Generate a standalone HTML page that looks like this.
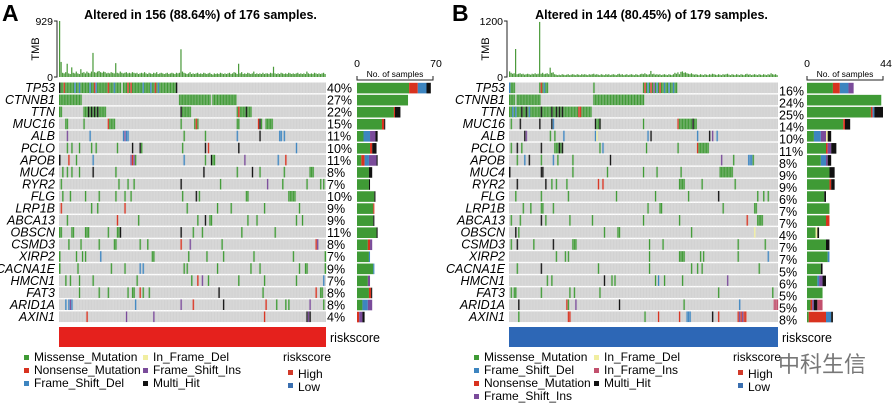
<!DOCTYPE html>
<html><head><meta charset="utf-8"><style>
body{margin:0;background:#fff}
svg{display:block;font-family:"Liberation Sans","Noto Sans CJK SC",sans-serif}
</style></head><body>
<svg id="s" width="892" height="403" viewBox="0 0 892 403" xmlns="http://www.w3.org/2000/svg"></svg>
<script>
// ---------- data ----------
const genesA = ["TP53","CTNNB1","TTN","MUC16","ALB","PCLO","APOB","MUC4","RYR2","FLG","LRP1B","ABCA13","OBSCN","CSMD3","XIRP2","CACNA1E","HMCN1","FAT3","ARID1A","AXIN1"];
const genesB = genesA;
const pctA = [40,27,22,15,11,10,11,8,7,10,9,9,11,8,7,9,7,8,8,4];
const pctB = [16,24,25,14,10,11,8,9,9,6,7,7,4,7,7,5,6,5,5,8];
const nSamplesA = 176, nSamplesB = 179;
const titleA = "Altered in 156 (88.64%) of 176 samples.";
const titleB = "Altered in 144 (80.45%) of 179 samples.";
// mutation codes per gene: type + sample index or range
const mutA = [
"H0,M1-2,N3,M4-40,D10,D13,D20,N23,D24,N32,D36,M42-76,N45,N47,D55,D60,N63,D65,H77",
"M0-14,M79-99,M101-116",
"M0-1,M16-30,H19,H21,H23,H25,M80-86,H80,M117-126,N118,H123",
"M4-5,M16,N32,M33-36,M80,M89-91,N90,M117-118,N131,H132,M133,M136-140",
"I5,D20,D42,I43,D44,D45,M82,M96,D117,H132,D145,D146,D148",
"M5,M8,M13,M21,M24,M38,H48,H53,M54,M81,H96,N98,H118,D156",
"H0,N6,M11,D22,I47,N48,I49,M50,D82,M96,H100,M101,M102,I122,D144,N149",
"M2,M5,M8,M13,H22,M37,H95,M117,H127,M132,M148,M165-167",
"M1,M39,M45,M49,H80,M106,I137,M147,M163,M172,M174",
"M2,M7,M17,M26,M37,M43,M47,M81,H90,M92,M123-124,M151-155",
"N1,M21,M25,N43,M84,M104,M113,M135,M158",
"M5,N38,M52,M91,H96,M99-100,M124,M130,M156,M160",
"M0-1,M8-9,M17-19,M32,M38-39,H40,H80,M88,M94,M120,M142",
"M6,M14,M26,M36-37,M53,M58,N80,I86,M107,N169,I170",
"M0,M11,M15,M17,D27,M61-62,M85,M97,M108,M128,M154,M175",
"M0,M12,M34,M43,D53,D55,M82,M84,M104,M126,M132,M158,M162-163,M175",
"M4,M7,M13,M22,M51,M87,N91,I94,M98,M118,M135,M156,D174",
"M13,M26,M32,M45,M48-49,N53,M55,M59,H105,M134,N169,M172-173",
"D4,D6,I7,D8,D50,I80,N88,H108,N136,M143,M149,M151,I165,M174",
"N18,I44,I62,N135,H163,I164,H165"];
const mutB = [
"D0,M1-3,M20-25,N21,D23,M56,M89-111,N90,D92,N94,I96,D98,N100,D103,D106,D109",
"M0-3,M5-20,M56-89",
"M0-20,D2,D4,H8,H11,D13,M20-54,H21,H28,H31,H33,H35,N46,N47",
"M1,H7,H20,H28,D29,H57,M58-60,H60,M89,N112,M113-124,H122",
"H10,I11,M27,M30,D36,D57,F58,D92,H94,D125,H133,I135,D138",
"M1,H5,M8,H21,M30-35,H33,H35,M60,D62,M91,M112,N125,M126-132",
"M5,D10,H13,M21,D29,M32,M42,H67,I141,M149,D159-161,M162",
"H0,H21-22,M42,M65,M89,M98,M114,M140-148",
"H5,H24,M28,M31,M38,N59,N62,M113-116,M128,M150",
"M4,M21,M39,M71,M97,M119,H139,M165,M169,M172",
"M9,M14,M21-22,M29,M92,M100-101,M142,M163-164",
"M1,M7,H21,M24,M40,M55,M89,M113,N158,M165-168",
"H4,M6,M63,M72-73,M121,F163",
"M1,H5,M16,H29,M42-44,M93,M102,M152,M170",
"M31,M37,M39,M93,M113-116,M127,M129,M152,D172",
"M5,H21,M59,M93,M121,M125,M128,M166",
"M25,M28,H63,M68,M70,M97,D99,M103,M115,I145",
"M1,M3-4,M21,M40,M43,M60,M139,M175",
"H6,N38,M39,I44,H73,M116,D153,R176-178",
"M6,N39-40,M90,N99,N113,D118-120,H135,N139,N152,I153,N154,I155,N156,N157"];
// stacked sample counts per gene: order M,N,D,I,F,H,R
const cntA = [[48,8,8,0,0,4,0],[47,0,0,0,0,0,0],[34,1,0,0,0,5,0],[23,2,0,0,0,1,0],[6,0,6,5,0,2,0],[12,2,0,0,0,4,0],[4,3,4,7,0,1,0],[11,0,0,0,0,3,0],[11,0,0,0,0,1,0],[16,0,0,0,0,1,0],[15,1,0,0,0,0,0],[15,0,0,0,0,1,0],[18,0,0,0,0,1,0],[10,2,0,2,0,0,0],[11,0,1,0,0,0,0],[15,0,1,0,0,0,0],[10,0,0,2,0,0,0],[11,2,0,0,0,1,0],[5,0,5,4,0,0,0],[0,2,0,3,0,2,0]];
const cntB = [[15,4,5,3,0,0,0],[43,0,0,0,0,0,0],[37,1,1,0,0,5,0],[21,1,0,0,0,3,0],[4,0,4,3,1,2,0],[11,1,0,2,0,3,0],[8,0,3,1,0,2,0],[13,0,0,0,0,3,0],[13,1,0,0,0,2,0],[10,0,0,0,0,1,0],[13,0,0,0,0,0,0],[11,2,0,0,0,0,0],[5,0,0,0,1,1,0],[11,0,0,0,0,2,0],[12,0,1,0,0,0,0],[8,0,0,0,0,1,0],[6,0,1,2,0,2,0],[9,0,0,0,0,0,0],[2,1,0,1,0,2,3],[1,10,3,0,0,1,0]];
const tmbA = [929,250,70,60,80,220,60,50,160,70,60,90,60,50,130,70,80,60,90,70,60,90,400,80,70,90,100,80,70,90,80,60,70,60,80,70,60,230,70,60,90,70,60,70,80,60,70,60,80,70,60,70,50,60,70,60,80,60,50,70,60,50,70,60,80,50,60,70,60,50,60,70,50,60,70,60,50,70,60,70,460,90,70,60,50,60,80,50,60,50,60,70,50,60,50,70,60,50,60,70,50,40,60,50,60,50,70,60,50,60,50,60,70,50,60,80,70,50,220,60,80,50,60,50,70,60,50,60,90,50,60,50,60,50,70,50,60,60,50,70,60,170,60,50,60,50,70,60,50,60,50,70,60,50,60,50,60,70,50,60,50,60,50,90,60,50,60,50,70,60,50,60,50,60,70,50];
const tmbB = [120,90,70,80,600,60,70,80,60,70,50,60,70,60,50,70,60,80,60,70,1180,70,90,60,70,80,60,200,90,100,60,50,40,50,40,60,50,40,50,60,40,50,60,50,40,60,50,40,60,50,60,50,40,60,50,60,70,50,60,50,40,60,50,40,60,50,60,40,50,60,50,40,60,70,50,60,40,50,60,40,50,60,50,40,60,50,40,60,70,60,80,60,50,60,130,60,70,50,60,50,60,40,50,60,50,40,60,50,40,60,90,70,100,60,110,120,90,100,80,70,60,80,60,50,60,50,40,60,50,40,60,50,40,60,50,70,60,50,40,60,50,40,60,50,60,70,50,40,60,50,40,60,50,40,60,50,40,60,70,50,60,40,50,60,50,40,60,50,40,60,50,40,60,50,80,60,50,60,40];
const typeColor = {M:"#3f9a35",N:"#d8321f",D:"#3d85c0",I:"#7a4b9a",F:"#f1eea0",H:"#111111",R:"#c2506d"};
const stackOrder = ["M","N","D","I","F","H","R"];
// ---------- drawing ----------
const NS="http://www.w3.org/2000/svg", svg=document.getElementById("s");
function el(tag, attrs, parent){const e=document.createElementNS(NS,tag);for(const k in attrs)e.setAttribute(k,attrs[k]);(parent||svg).appendChild(e);return e;}
function txt(s,attrs,parent){const e=el("text",attrs,parent);e.textContent=s;return e;}
function parseMut(str){const out=[];str.split(",").forEach(tok=>{const t=tok[0];const r=tok.slice(1).split("-").map(Number);const a=r[0],b=r.length>1?r[1]:r[0];for(let i=a;i<=b;i++)out.push([i,t]);});return out;}
const rowY0=82.5, rowPitch=12.05, rowH=10.6;
function rowY(g){return rowY0+g*rowPitch;}

function panel(cfg){
  const g=el("g",{});
  
  
  const x0=cfg.x0, x1=cfg.x1, n=cfg.n, cw=(x1-x0)/n;
  const sx=i=>x0+i*cw;
  // letter + title
  const L=txt(cfg.letter,{x:cfg.letterX,y:21,"font-size":23,"font-weight":"bold"},g);
  
  const T=txt(cfg.title,{x:(x0+x1)/2+8,y:19,"font-size":12.5,"font-weight":"bold","text-anchor":"middle"},g);
  
  // TMB axis
  const yT=v=>77-v/cfg.tmbMax*56;
  el("path",{d:`M${x0-5} 21H${x0-2}V77H${x0-5}`,stroke:"#222",fill:"none","stroke-width":1},g);
  const t1=txt(String(cfg.tmbMax),{x:x0-6,y:25,"font-size":10.5,"text-anchor":"end"},g);
  
  const t0=txt("0",{x:x0-6,y:81,"font-size":10.5,"text-anchor":"end"},g);
  
  const ty=txt("TMB",{x:0,y:0,"font-size":11,"text-anchor":"middle",transform:`translate(${x0-20},49) rotate(-90)`},g);
  
  cfg.tmb.forEach((v,i)=>{const r=el("rect",{x:sx(i),y:yT(v),width:Math.max(cw*0.8,0.9),height:77-yT(v),fill:"#4a9a3a"},g);
    });
  // matrix
  cfg.genes.forEach((gn,gi)=>{
    const y=rowY(gi);
    const bg=el("rect",{x:x0,y:y,width:x1-x0,height:rowH,fill:"#d2d2d2"},g);
    
    const lab=txt(gn,{x:x0-4,y:y+9.5,"font-size":12.5,"font-style":"italic","text-anchor":"end"},g);
    
    parseMut(cfg.mut[gi]).forEach(([i,t])=>{const c=el("rect",{x:sx(i),y:y,width:cw+0.15,height:rowH,fill:typeColor[t]},g);
      });
    const p=txt(cfg.pct[gi]+"%",{x:x1+1,y:y+10+cfg.pctDy,"font-size":12.5},g);
    
    // stacked bar
    const bx=v=>cfg.bx0+v/cfg.bmax*(cfg.bx1-cfg.bx0);
    let acc=0;
    stackOrder.forEach((t,k)=>{const v=cfg.cnt[gi][k];if(!v)return;
      const r=el("rect",{x:bx(acc),y:y+0.3,width:bx(acc+v)-bx(acc),height:rowH,fill:typeColor[t]},g);
      acc+=v;});
  });
  // vertical sample separators
  for(let i=1;i<n;i++){el("line",{x1:sx(i),x2:sx(i),y1:rowY0,y2:rowY(19)+rowH,stroke:"#e6e6e6","stroke-width":0.25},g);}
  // right axis
  el("path",{d:`M${cfg.bx0} 76V80H${cfg.bx1}V76`,stroke:"#222",fill:"none","stroke-width":1},g);
  txt("0",{x:cfg.bx0,y:67,"font-size":10.5,"text-anchor":"middle"},g);
  txt(String(cfg.bmax),{x:cfg.bx1+3,y:67,"font-size":10.5,"text-anchor":"middle"},g);
  const ns=txt("No. of samples",{x:(cfg.bx0+cfg.bx1)/2,y:77,"font-size":8.5,"text-anchor":"middle"},g);
  
  // riskscore bar
  const rb=el("rect",{x:x0,y:327,width:x1-x0,height:20,fill:cfg.riskColor},g);
  
  txt("riskscore",{x:x1+4,y:342,"font-size":12.5},g);
  // legend
  cfg.legend.forEach(([label,t,lx,ly])=>{
    const sq=el("rect",{x:lx,y:ly-6,width:5,height:5,fill:typeColor[t]},g);
    
    const lt=txt(label,{x:lx+10,y:ly,"font-size":12},g);
    
  });
  txt("riskscore",{x:cfg.rsx,y:361,"font-size":12},g);
  el("rect",{x:cfg.rsx+5,y:370,width:5,height:5,fill:"#d23a2a"},g);
  txt("High",{x:cfg.rsx+15,y:378,"font-size":12},g);
  el("rect",{x:cfg.rsx+5,y:383,width:5,height:5,fill:"#3a6fb0"},g);
  txt("Low",{x:cfg.rsx+15,y:391,"font-size":12},g);
}
panel({name:"panel-a",letter:"A",letterX:2,title:titleA,x0:59,x1:326,n:nSamplesA,tmb:tmbA,tmbMax:929,genes:genesA,mut:mutA,pct:pctA,pctDy:0,cnt:cntA,bx0:357,bx1:433,bmax:70,riskColor:"#e5211d",rsx:283,
 legend:[["Missense_Mutation","M",24,161+200],["Nonsense_Mutation","N",24,374],["Frame_Shift_Del","D",24,387],["In_Frame_Del","F",143,361],["Frame_Shift_Ins","I",143,374],["Multi_Hit","H",143,387]]});
panel({name:"panel-b",letter:"B",letterX:452,title:titleB,x0:509,x1:778,n:nSamplesB,tmb:tmbB,tmbMax:1200,genes:genesB,mut:mutB,pct:pctB,pctDy:3,cnt:cntB,bx0:807,bx1:883,bmax:44,riskColor:"#2d67b6",rsx:733,
 legend:[["Missense_Mutation","M",474,361],["Frame_Shift_Del","D",474,374],["Nonsense_Mutation","N",474,387],["Frame_Shift_Ins","I",474,400],["In_Frame_Del","F",594,361],["In_Frame_Ins","R",594,374],["Multi_Hit","H",594,387]]});
const wm=txt("中科生信",{x:778,y:372,"font-size":22,fill:"#777"});


</script>
</body></html>
